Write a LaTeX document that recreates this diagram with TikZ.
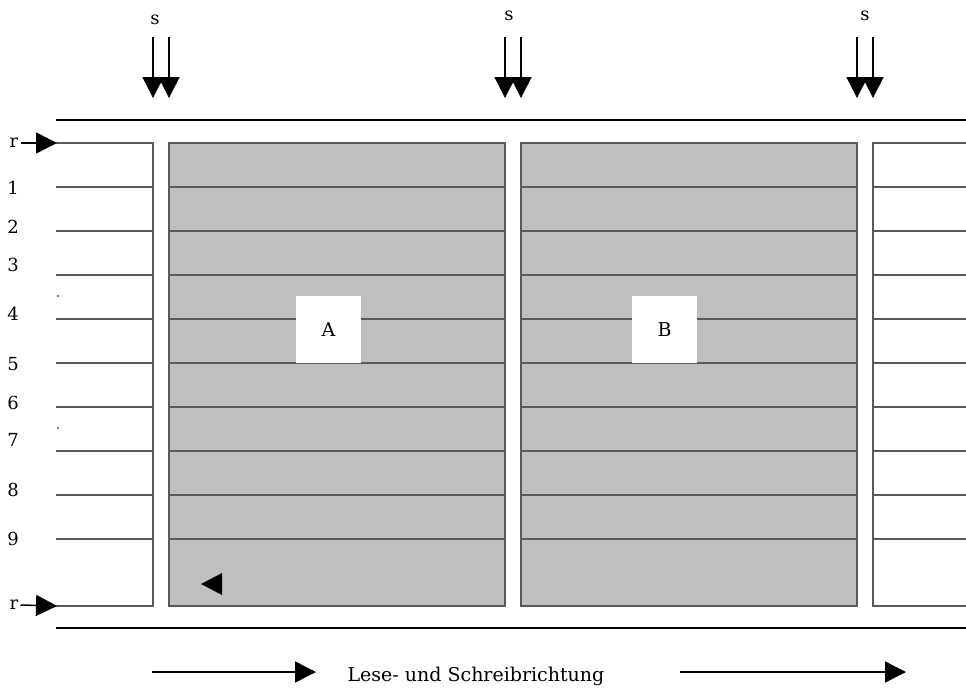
\documentclass[tikz,border=0pt]{standalone}
\usepackage{fontspec}
\setmainfont{DejaVu Serif}
\usetikzlibrary{arrows.meta}
\begin{document}
\begin{tikzpicture}[x=1pt,y=-1pt,
  gridline/.style={draw=black!65, line width=1.3pt},
  blk/.style={draw=black, line width=1.5pt},
  graybox/.style={fill=black!25, draw=black!65, line width=1.5pt},
  whitebox/.style={draw=black!65, line width=1.5pt},
  tri/.style={-{Triangle[length=21pt,width=21pt]}, line width=1.5pt},
  lbl/.style={font=\fontsize{18}{22}\selectfont, inner sep=0pt},
  letterbox/.style={fill=white, minimum width=65pt, minimum height=67pt, inner sep=0pt, font=\fontsize{19}{22}\selectfont}]
\useasboundingbox (0,0) rectangle (966,689);
% frame lines
\draw[blk] (56,120) -- (966,120);
\draw[blk] (56,628) -- (966,628);
% boxes
\path[graybox] (169,143) rectangle (505,606);
\path[graybox] (521,143) rectangle (857,606);
\draw[whitebox] (56,143) -- (153,143) -- (153,606) -- (56,606);
\draw[whitebox] (966,143) -- (873,143) -- (873,606) -- (966,606);
% grid lines
\foreach \y in {187,231,275,319,363,407,451,495,539}{
  \draw[gridline] (56,\y) -- (153,\y);
  \draw[gridline] (169,\y) -- (505,\y);
  \draw[gridline] (521,\y) -- (857,\y);
  \draw[gridline] (873,\y) -- (966,\y);
}
% letter boxes
\node[letterbox] (A) at (328.5,329.5) {A};
\node[letterbox] (B) at (664.5,329.5) {B};
% row labels
\node[lbl] (r1) at (14,143) {r};
\node[lbl] (n1) at (13,188) {1};
\node[lbl] (n2) at (13,227) {2};
\node[lbl] (n3) at (13,265) {3};
\node[lbl] (n4) at (13,314) {4};
\node[lbl] (n5) at (13,364) {5};
\node[lbl] (n6) at (13,403) {6};
\node[lbl] (n7) at (13,440) {7};
\node[lbl] (n8) at (13,490) {8};
\node[lbl] (n9) at (13,539) {9};
\node[lbl] (r2) at (14,605) {r};
\fill (58,296) circle (0.9);
\fill (58,428) circle (0.9);
% r arrows
\coordinate (ra) at (57,143);
\coordinate (rb) at (57,606);
\draw[tri] (r1.east) ++(2,0) -- (ra);
\draw[tri] (r2.east) ++(2,0) -- (rb);
% s arrows
\node[lbl] (s1) at (155,20) {s};
\node[lbl] (s2) at (509,16) {s};
\node[lbl] (s3) at (865,16) {s};
\foreach \xa/\xb [count=\i] in {153/169,505/521,857/873}{
  \coordinate (sa\i) at (\xa,98);
  \coordinate (sb\i) at (\xb,98);
  \draw[tri] (\xa,37) -- (sa\i);
  \draw[tri] (\xb,37) -- (sb\i);
}
% small triangle
\fill (201,584) -- (222,573) -- (222,595) -- cycle;
% bottom direction
\node[lbl, font=\fontsize{19}{22}\selectfont] (dir) at (476,676) {Lese- und Schreibrichtung};
\coordinate (d1s) at (152,672);
\coordinate (d1e) at (316,672);
\coordinate (d2s) at (680,672);
\coordinate (d2e) at (906,672);
\draw[tri] (d1s) -- (d1e);
\draw[tri] (d2s) -- (d2e);
\end{tikzpicture}
\end{document}
